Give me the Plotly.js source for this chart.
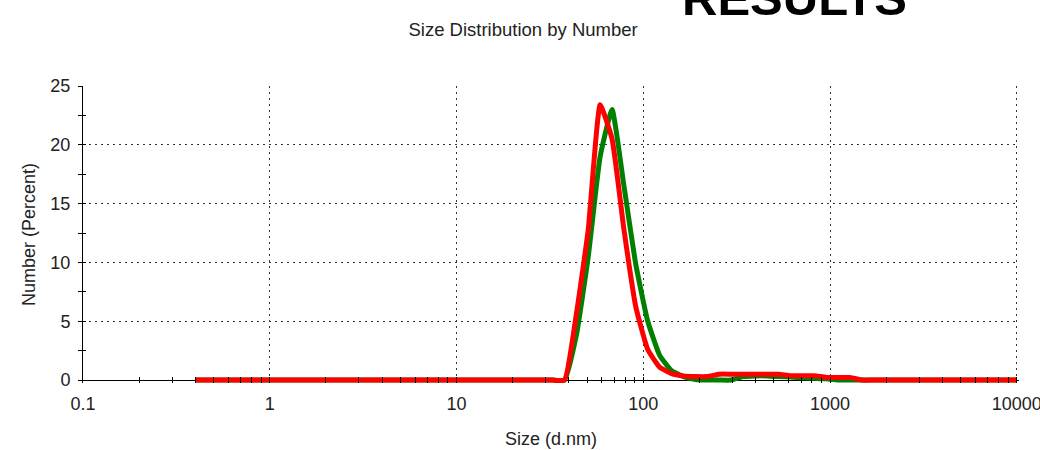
<!DOCTYPE html>
<html>
<head>
<meta charset="utf-8">
<script src="https://cdn.plot.ly/plotly-3.0.1.min.js"></script>
<style>
  html, body { margin: 0; padding: 0; background: #ffffff; }
  #chart { width: 1040px; height: 450px; }
</style>
</head>
<body>
<div id="chart"></div>
<script>
// Size bins (d.nm)
const sizes = [0.4, 0.4632, 0.5365, 0.6213, 0.7195, 0.8332, 0.9649, 1.117, 1.294, 1.499,
  1.736, 2.01, 2.328, 2.696, 3.122, 3.615, 4.187, 4.849, 5.615, 6.503,
  7.531, 8.721, 10.1, 11.7, 13.54, 15.69, 18.17, 21.04, 24.36, 28.21,
  32.67, 37.84, 43.82, 50.75, 58.77, 68.06, 78.82, 91.28, 105.7, 122.4,
  141.8, 164.2, 190.1, 220.2, 255.0, 295.3, 342.0, 396.1, 458.7, 531.2,
  615.1, 712.4, 825.0, 955.4, 1106, 1281, 1484, 1718, 1990, 2305,
  2669, 3091, 3580, 4145, 4801, 5560, 6439, 7456, 8635, 10000];

// Number (%) – green record
const greenNumber = [0, 0, 0, 0, 0, 0, 0, 0, 0, 0,
  0, 0, 0, 0, 0, 0, 0, 0, 0, 0,
  0, 0, 0, 0, 0, 0, 0, 0, 0, 0,
  0, 0, 3.8, 10.5, 19.0, 23.0, 16.5, 9.8, 5.0, 2.1,
  0.8, 0.3, 0.05, 0, 0, 0, 0.3, 0.35, 0.35, 0.3,
  0.25, 0.2, 0.15, 0.1, 0, 0, 0, 0, 0, 0,
  0, 0, 0, 0, 0, 0, 0, 0, 0, 0];

// Number (%) – red record
const redNumber = [0, 0, 0, 0, 0, 0, 0, 0, 0, 0,
  0, 0, 0, 0, 0, 0, 0, 0, 0, 0,
  0, 0, 0, 0, 0, 0, 0, 0, 0, 0,
  0, 0, 5.6, 12.8, 23.4, 20.5, 12.8, 6.2, 2.6, 1.1,
  0.55, 0.35, 0.3, 0.3, 0.5, 0.5, 0.5, 0.5, 0.5, 0.5,
  0.37, 0.37, 0.37, 0.22, 0.22, 0.22, 0, 0, 0, 0,
  0, 0, 0, 0, 0, 0, 0, 0, 0, 0];

const xTickVals = [0.1, 1, 10, 100, 1000, 10000];
const xTickText = ['0.1', '1', '10', '100', '1000', '10000'];
const yTickVals = [0, 5, 10, 15, 20, 25];

const FONT = 'Liberation Sans, Arial, sans-serif';
const TXT = '#222222';
const GRID = '#333333';
const GRIDDASH = '1.5px,4.5px';

const traces = [
  { x: sizes, y: greenNumber, type: 'scatter', mode: 'lines',
    line: { color: '#008000', width: 5, shape: 'spline', smoothing: 0.4 }, hoverinfo: 'skip', showlegend: false },
  { x: sizes, y: redNumber, type: 'scatter', mode: 'lines',
    line: { color: '#ff0000', width: 5, shape: 'spline', smoothing: 0.4 }, hoverinfo: 'skip', showlegend: false },
  { x: [], y: [], type: 'scatter', mode: 'lines', yaxis: 'y2', hoverinfo: 'skip', showlegend: false }
];

const layout = {
  width: 1040, height: 450,
  margin: { l: 83, r: 21, t: 86, b: 67 },
  paper_bgcolor: '#ffffff', plot_bgcolor: '#ffffff',
  font: { family: FONT, size: 18, color: TXT },
  showlegend: false,
  title: { text: 'Size Distribution by Number', font: { family: FONT, size: 18.5, color: TXT },
           x: 0.503, xanchor: 'center', y: 0.935, yanchor: 'middle', yref: 'container' },
  xaxis: {
    type: 'log', range: [-1, 4.012],
    tickmode: 'array', tickvals: xTickVals, ticktext: xTickText,
    ticklabeloverflow: 'allow',
    showline: false, zeroline: false,
    showgrid: true, gridcolor: GRID, gridwidth: 1, griddash: GRIDDASH,
    ticks: 'inside', ticklen: 6, tickwidth: 1, tickcolor: '#000000',
    minor: { dtick: 'D1', ticks: 'inside', ticklen: 6, tickwidth: 1, tickcolor: '#000000', showgrid: false },
    ticklabelstandoff: 8,
    tickfont: { family: FONT, size: 18, color: TXT },
    title: { text: 'Size (d.nm)', font: { family: FONT, size: 18, color: TXT }, standoff: 19 },
    automargin: false, fixedrange: true
  },
  yaxis: {
    range: [-0.25, 25],
    tickmode: 'array', tickvals: yTickVals,
    showline: true, linecolor: '#000000', linewidth: 1,
    zeroline: true, zerolinecolor: '#000000', zerolinewidth: 1,
    showgrid: true, gridcolor: GRID, gridwidth: 1, griddash: GRIDDASH,
    ticks: 'outside', ticklen: 4, tickwidth: 1, tickcolor: '#000000',
    minor: { dtick: 2.5, ticks: 'outside', ticklen: 4, tickwidth: 1, tickcolor: '#000000', showgrid: false },
    ticklabelstandoff: 4,
    tickfont: { family: FONT, size: 18, color: TXT },
    title: { text: 'Number (Percent)', font: { family: FONT, size: 18, color: TXT }, standoff: 10 },
    automargin: false, fixedrange: true
  },
  yaxis2: {
    overlaying: 'y', side: 'left', range: [-0.25, 25],
    tickmode: 'array', tickvals: yTickVals, showticklabels: false,
    showline: false, zeroline: false, showgrid: false,
    ticks: 'inside', ticklen: 3, tickwidth: 1, tickcolor: '#000000',
    minor: { dtick: 2.5, ticks: 'inside', ticklen: 3, tickwidth: 1, tickcolor: '#000000', showgrid: false },
    fixedrange: true
  },
  annotations: [
    { text: '<b>RESULTS</b>', xref: 'paper', yref: 'paper', x: 0.76, y: 1.2,
      xanchor: 'center', yanchor: 'bottom', showarrow: false,
      font: { family: FONT, size: 49, color: '#000000' } }
  ]
};

Plotly.newPlot('chart', traces, layout, { staticPlot: true, displayModeBar: false });
</script>
</body>
</html>
